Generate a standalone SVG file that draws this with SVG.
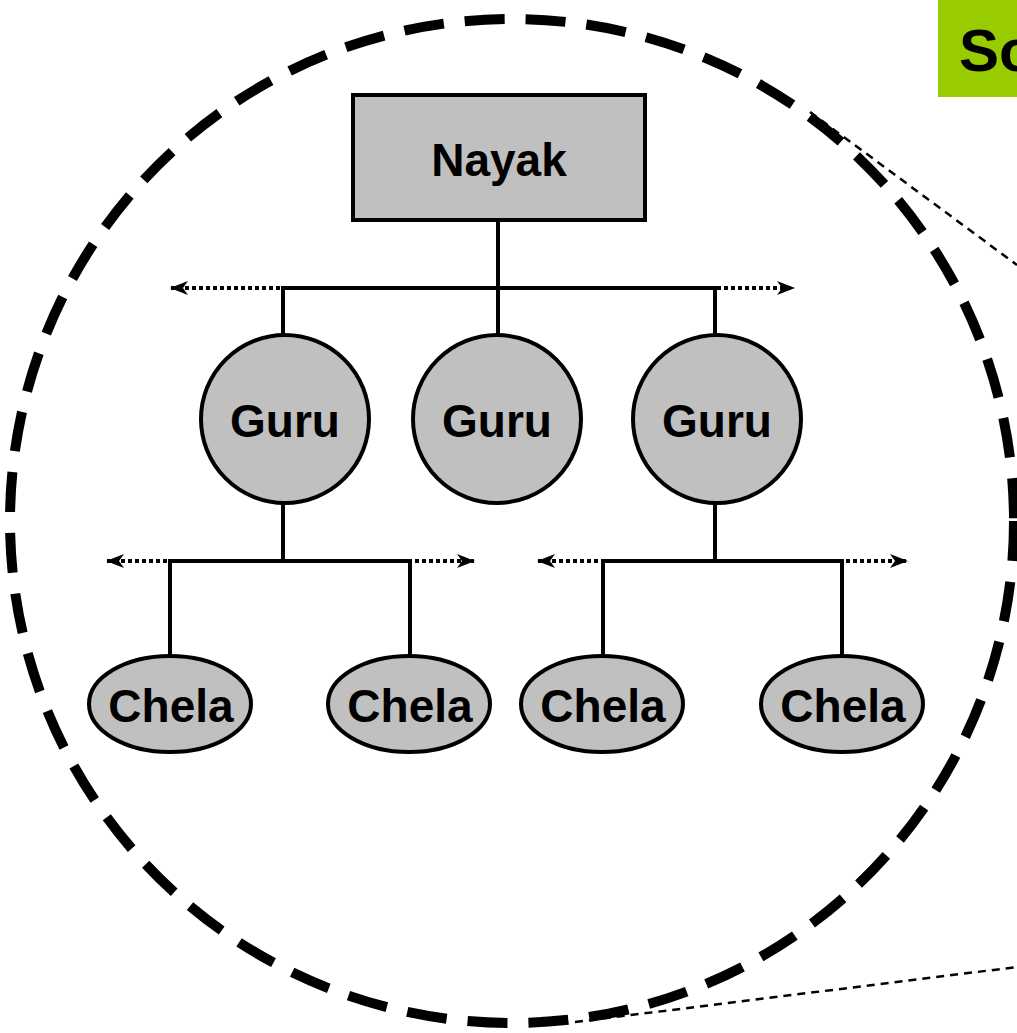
<svg xmlns="http://www.w3.org/2000/svg" width="1017" height="1033" viewBox="0 0 1017 1033">
  <style>
    .node { fill: #c0c0c0; stroke: #000; stroke-width: 4; }
    .label { font-family: "Liberation Sans", Arial, sans-serif; font-weight: bold; font-size: 46px; fill: #000; text-anchor: middle; }
    .solid { fill: none; stroke: #000; stroke-width: 4; }
    .dotted { fill: none; stroke: #000; stroke-width: 4; stroke-dasharray: 4 3; }
    .zoomline { fill: none; stroke: #000; stroke-width: 2.5; stroke-dasharray: 8 6; }
  </style>
  <defs>
    <marker id="arrow" viewBox="0 0 18 16" refX="17" refY="8" markerWidth="18" markerHeight="16" markerUnits="userSpaceOnUse" orient="auto-start-reverse">
      <path d="M0,1 L18,8 L0,15 L5,8 Z" fill="#000"/>
    </marker>
  </defs>
  <rect width="1017" height="1033" fill="#fff"/>

  <!-- title tab -->
  <g id="title">
    <rect x="938" y="0" width="90" height="97" fill="#99cc00"/>
    <text x="959" y="71" font-family="Liberation Sans, Arial, sans-serif" font-weight="bold" font-size="60" fill="#000">So</text>
  </g>

  <!-- magnifier boundary and its tangent lines -->
  <g id="lens">
    <circle cx="512" cy="521" r="502" fill="none" stroke="#000" stroke-width="10" stroke-dasharray="40 21"/>
    <line class="zoomline" x1="810" y1="112" x2="1017" y2="265"/>
    <line class="zoomline" x1="575" y1="1022" x2="1017" y2="967"/>
  </g>

  <g id="connectors">
    <!-- open-ended extensions -->
    <line class="dotted" x1="171" y1="288" x2="794" y2="288" marker-start="url(#arrow)" marker-end="url(#arrow)"/>
    <line class="dotted" x1="107" y1="561" x2="474" y2="561" marker-start="url(#arrow)" marker-end="url(#arrow)"/>
    <line class="dotted" x1="538" y1="561" x2="907" y2="561" marker-start="url(#arrow)" marker-end="url(#arrow)"/>
    <!-- Nayak to Gurus -->
    <path class="solid" d="M498,220 V288 M283,336 V288 H715 V336 M498,288 V336"/>
    <!-- left Guru to Chelas -->
    <path class="solid" d="M283,503 V561 M170,656 V561 H410 V656"/>
    <!-- right Guru to Chelas -->
    <path class="solid" d="M715,503 V561 M603,656 V561 H842 V656"/>
  </g>

  <g id="nayak">
    <rect class="node" x="353" y="95" width="292" height="125"/>
    <text class="label" x="499" y="176">Nayak</text>
  </g>

  <g id="guru-1">
    <circle class="node" cx="285" cy="419" r="84"/>
    <text class="label" x="285" y="437">Guru</text>
  </g>
  <g id="guru-2">
    <circle class="node" cx="497" cy="419" r="84"/>
    <text class="label" x="497" y="437">Guru</text>
  </g>
  <g id="guru-3">
    <circle class="node" cx="717" cy="419" r="84"/>
    <text class="label" x="717" y="437">Guru</text>
  </g>

  <g id="chela-1">
    <ellipse class="node" cx="170" cy="704" rx="81" ry="48"/>
    <text class="label" x="171" y="722">Chela</text>
  </g>
  <g id="chela-2">
    <ellipse class="node" cx="409" cy="704" rx="81" ry="48"/>
    <text class="label" x="410" y="722">Chela</text>
  </g>
  <g id="chela-3">
    <ellipse class="node" cx="602" cy="704" rx="81" ry="48"/>
    <text class="label" x="603" y="722">Chela</text>
  </g>
  <g id="chela-4">
    <ellipse class="node" cx="842" cy="704" rx="81" ry="48"/>
    <text class="label" x="843" y="722">Chela</text>
  </g>
</svg>
